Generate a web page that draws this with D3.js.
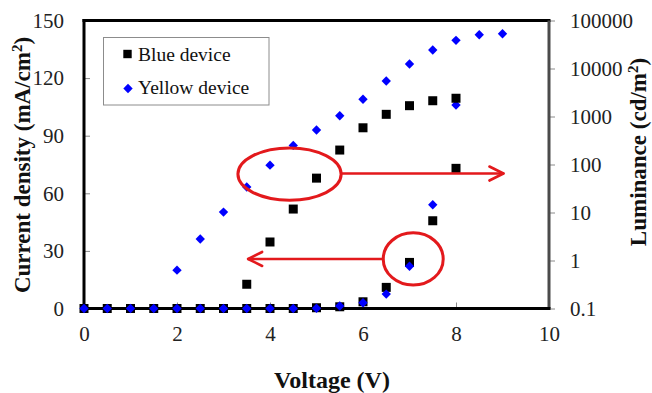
<!DOCTYPE html>
<html>
<head>
<meta charset="utf-8">
<script src="https://cdn.jsdelivr.net/npm/d3@7/dist/d3.min.js"></script>
<style>
  html, body { margin: 0; padding: 0; background: #fff; }
  svg { display: block; }
</style>
</head>
<body>
<svg id="chart" width="652" height="393"></svg>
<script>
// Voltage steps (V)
const voltageJ = [0, 0.5, 1, 1.5, 2, 2.5, 3, 3.5, 4, 4.5, 5, 5.5, 6, 6.5, 7, 7.5, 8];
// Current density (mA/cm2)
const blueCurrent   = [0, 0, 0, 0, 0, 0, 0, 0, 0, 0, 0.4, 0.9, 3.5, 11, 24, 45.7, 73];
const yellowCurrent = [0, 0, 0, 0, 0, 0, 0, 0, 0, 0, 0.1, 1.3, 3, 7.5, 22, 54, 106];
// Luminance (cd/m2)
const blueLumV   = [3.5, 4, 4.5, 5, 5.5, 6, 6.5, 7, 7.5, 8];
const blueLum    = [0.32, 2.43, 11.8, 52, 200, 582, 1110, 1680, 2130, 2400];
const yellowLumV = [2, 2.5, 3, 3.5, 4, 4.5, 5, 5.5, 6, 6.5, 7, 7.5, 8, 8.5, 9];
const yellowLum  = [0.63, 2.8, 10.2, 34, 97, 250, 522, 1040, 2280, 5490, 12400, 24300, 38600, 50400, 53000];

// Axis ticks
const xTicks = [0, 2, 4, 6, 8, 10];
const jTicks = [0, 30, 60, 90, 120, 150];
const lumTicks = [0.1, 1, 10, 100, 1000, 10000, 100000];

const seriesNames = ["Blue device", "Yellow device"];

const serif = "Liberation Serif";
const svg = d3.select("#chart");
const plot = { left: 84, right: 549, top: 20.5, bottom: 308.5 };

const x = d3.scaleLinear().domain([0, 10]).range([plot.left, plot.right]);
const yJ = d3.scaleLinear().domain([0, 150]).range([plot.bottom, plot.top]);
const yL = d3.scaleLog().domain([0.1, 100000]).range([plot.bottom, plot.top]);

const tickColor = "#8a8a8a";

// Left axis (current density), inner ticks
const gLeft = svg.append("g").attr("transform", `translate(${plot.left},0)`)
  .call(d3.axisLeft(yJ).tickValues(jTicks).tickSizeInner(-6).tickSizeOuter(0).tickPadding(20));
// Bottom axis (voltage), inner ticks
const gBottom = svg.append("g").attr("transform", `translate(0,${plot.bottom})`)
  .call(d3.axisBottom(x).tickValues(xTicks).tickSizeInner(-6).tickSizeOuter(0).tickPadding(18));
// Right axis (luminance), outer ticks
const gRight = svg.append("g").attr("transform", `translate(${plot.right},0)`)
  .call(d3.axisRight(yL).tickValues(lumTicks).tickFormat(d => String(d)).tickSizeInner(6).tickSizeOuter(0).tickPadding(15));

[gLeft, gBottom, gRight].forEach(g => {
  g.attr("font-family", serif).attr("font-size", 21);
  g.select(".domain").remove();
  g.selectAll(".tick line").attr("stroke", tickColor).attr("stroke-width", 1);
  g.selectAll(".tick text").attr("fill", "#222").attr("font-family", serif).attr("font-size", 21);
});
gLeft.selectAll(".tick line").filter(d => d === 0 || d === 150).remove();
gBottom.selectAll(".tick line").filter(d => d === 0 || d === 10).remove();

// Plot frame
svg.append("line").attr("x1", plot.left - 1.5).attr("x2", plot.right + 1.5)
  .attr("y1", plot.top).attr("y2", plot.top).attr("stroke", "#000").attr("stroke-width", 3);
svg.append("line").attr("x1", plot.right).attr("x2", plot.right)
  .attr("y1", plot.top).attr("y2", plot.bottom).attr("stroke", "#4a4a4a").attr("stroke-width", 3);
svg.append("line").attr("x1", plot.left).attr("x2", plot.left)
  .attr("y1", plot.top - 1.5).attr("y2", plot.bottom + 1.5).attr("stroke", "#000").attr("stroke-width", 3);
svg.append("line").attr("x1", plot.left - 1.5).attr("x2", plot.right + 1.5)
  .attr("y1", plot.bottom).attr("y2", plot.bottom).attr("stroke", "#000").attr("stroke-width", 3);

// Marker shapes
const squarePath = s => `M${-s},${-s}H${s}V${s}H${-s}Z`;
const diamondPath = s => `M0,${-s}L${s},0L0,${s}L${-s},0Z`;
const blueColor = "#000000";
const yellowColor = "#0000ff";

function drawSeries(xs, ys, yScale, path, color) {
  svg.append("g").selectAll("path")
    .data(xs.map((v, i) => [v, ys[i]]))
    .join("path")
    .attr("d", path)
    .attr("fill", color)
    .attr("transform", d => `translate(${x(d[0])},${yScale(d[1])})`);
}

drawSeries(voltageJ, blueCurrent, yJ, squarePath(4.5), blueColor);
drawSeries(voltageJ, yellowCurrent, yJ, diamondPath(4.7), yellowColor);
drawSeries(blueLumV, blueLum, yL, squarePath(4.5), blueColor);
drawSeries(yellowLumV, yellowLum, yL, diamondPath(4.7), yellowColor);

// Annotations: ellipses grouping each curve, arrows pointing to its axis
const red = "#e3191c";
const ellipses = [
  { v: 4.42, j: 70, rv: 1.11, rj: 13.6 },
  { v: 7.08, j: 25.8, rv: 0.645, rj: 13.6 }
];
const arrows = [
  { v0: 5.53, v1: 9.02, j: 70.3 },
  { v0: 6.43, v1: 3.53, j: 25.8 }
];
svg.append("g").selectAll("ellipse").data(ellipses).join("ellipse")
  .attr("cx", d => x(d.v)).attr("cy", d => yJ(d.j))
  .attr("rx", d => x(d.v + d.rv) - x(d.v))
  .attr("ry", d => yJ(0) - yJ(d.rj))
  .attr("fill", "none").attr("stroke", red).attr("stroke-width", 3);
const ag = svg.append("g").attr("stroke", red).attr("stroke-width", 2.6).attr("fill", "none")
  .attr("stroke-linecap", "round").attr("stroke-linejoin", "round");
arrows.forEach(a => {
  const x0 = x(a.v0), x1 = x(a.v1), yy = yJ(a.j);
  const dir = Math.sign(x1 - x0);
  ag.append("line").attr("x1", x0).attr("x2", x1).attr("y1", yy).attr("y2", yy);
  ag.append("path").attr("d", `M${x1 - dir * 14},${yy - 7}L${x1},${yy}L${x1 - dir * 14},${yy + 7}`);
});

// Legend
const legend = svg.append("g");
legend.append("rect").attr("x", 103.5).attr("y", 37.5).attr("width", 165.5).attr("height", 67.5)
  .attr("fill", "#fff").attr("stroke", "#8c8c8c").attr("stroke-width", 1);
legend.append("path").attr("d", squarePath(4.2)).attr("fill", blueColor)
  .attr("transform", "translate(127.5,54)");
legend.append("path").attr("d", diamondPath(4.7)).attr("fill", yellowColor)
  .attr("transform", "translate(128,88.5)");
legend.selectAll("text").data(seriesNames).join("text")
  .attr("x", 138).attr("y", (d, i) => 61 + i * 33)
  .attr("font-family", serif).attr("font-size", 19.5).attr("fill", "#111").text(d => d);

// Axis titles
const titleStyle = sel => sel.attr("font-family", serif).attr("font-size", 23)
  .attr("font-weight", "bold").attr("fill", "#111");
const tl = svg.append("text").attr("transform", "translate(30,165) rotate(-90)")
  .attr("text-anchor", "middle").call(titleStyle);
tl.append("tspan").text("Current density (mA/cm");
tl.append("tspan").attr("baseline-shift", "super").attr("font-size", 15).text("2");
tl.append("tspan").text(")");

const tr = svg.append("text").attr("transform", "translate(646,152) rotate(-90)")
  .attr("text-anchor", "middle").call(titleStyle);
tr.append("tspan").text("Luminance (cd/m");
tr.append("tspan").attr("baseline-shift", "super").attr("font-size", 15).text("2");
tr.append("tspan").text(")");

svg.append("text").attr("x", 332).attr("y", 388).attr("text-anchor", "middle")
  .call(titleStyle).attr("font-size", 24).text("Voltage (V)");
</script>
</body>
</html>
